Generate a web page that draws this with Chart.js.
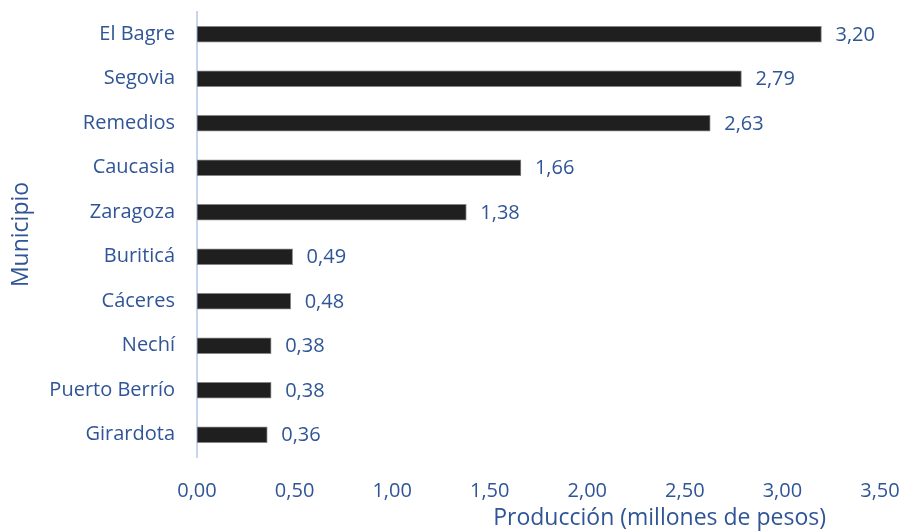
<!DOCTYPE html>
<html>
<head>
<meta charset="utf-8">
<script src="https://cdn.jsdelivr.net/npm/chart.js@4/dist/chart.umd.min.js"></script>
<style>
  html, body { margin: 0; padding: 0; background: #fff; }
  #wrap { width: 903px; height: 531px; }
</style>
</head>
<body>
<div id="wrap"><canvas id="prodChart" width="903" height="531"></canvas></div>
<script>
const municipios = [
	"El Bagre",
	"Segovia",
	"Remedios",
	"Caucasia",
	"Zaragoza",
	"Buriticá",
	"Cáceres",
	"Nechí",
	"Puerto Berrío",
	"Girardota",
];
const produccion = [3.2, 2.79, 2.63, 1.66, 1.38, 0.49, 0.48, 0.38, 0.38, 0.36];
const ejeX = { min: 0, max: 3.5, step: 0.5 };

const azul = "#2F5597";
const fuente = "'Open Sans', 'Liberation Sans', sans-serif";
const coma = (v) => v.toFixed(2).replace(".", ",");

// valores al final de cada barra
const etiquetas = {
	id: "etiquetas",
	afterDatasetsDraw(chart) {
		const ctx = chart.ctx;
		const meta = chart.getDatasetMeta(0);
		ctx.save();
		ctx.font = "20px " + fuente;
		ctx.fillStyle = azul;
		ctx.textAlign = "left";
		ctx.textBaseline = "middle";
		meta.data.forEach((bar, i) => {
			ctx.fillText(coma(produccion[i]), bar.x + 14, bar.y + 1);
		});
		ctx.restore();
	},
};

// titulo del eje horizontal
const tituloX = {
	id: "tituloX",
	afterDraw(chart) {
		const ctx = chart.ctx;
		const area = chart.chartArea;
		ctx.save();
		ctx.font = "23px " + fuente;
		ctx.fillStyle = azul;
		ctx.textAlign = "right";
		ctx.textBaseline = "middle";
		ctx.fillText("Producción (millones de pesos)", area.right - 54, 518);
		ctx.restore();
	},
};

const data = {
	labels: municipios,
	datasets: [
		{
			data: produccion,
			backgroundColor: "#1F1F1F",
			borderColor: "#858585",
			borderWidth: 1,
			borderSkipped: false,
			barThickness: 16,
		},
	],
};

const config = {
	type: "bar",
	data: data,
	options: {
		indexAxis: "y",
		responsive: false,
		animation: false,
		layout: { padding: { top: 12, right: 23, left: 0, bottom: 0 } },
		plugins: {
			legend: false,
			tooltip: { enabled: false },
		},
		scales: {
			x: {
				min: ejeX.min,
				max: ejeX.max,
				grid: { display: false, drawTicks: false },
				border: { display: false },
				ticks: {
					stepSize: ejeX.step,
					padding: 22,
					color: azul,
					font: { family: fuente, size: 20 },
					callback: (v) => coma(v),
				},
				afterFit(scale) {
					scale.height = 74;
					scale.paddingLeft = 0;
					scale.paddingRight = 0;
				},
			},
			y: {
				grid: { display: false, drawTicks: false },
				border: { display: true, color: "#C7D6EE", width: 2 },
				ticks: {
					padding: 22,
					color: azul,
					font: { family: fuente, size: 20 },
				},
				title: {
					display: true,
					text: "Municipio",
					color: azul,
					font: { family: fuente, size: 23 },
					padding: { top: 8, bottom: 0 },
				},
				afterFit(scale) {
					scale.width = 197;
					scale.paddingTop = 0;
					scale.paddingBottom = 0;
				},
			},
		},
	},
	plugins: [etiquetas, tituloX],
};

new Chart(document.getElementById("prodChart"), config);
</script>
</body>
</html>
